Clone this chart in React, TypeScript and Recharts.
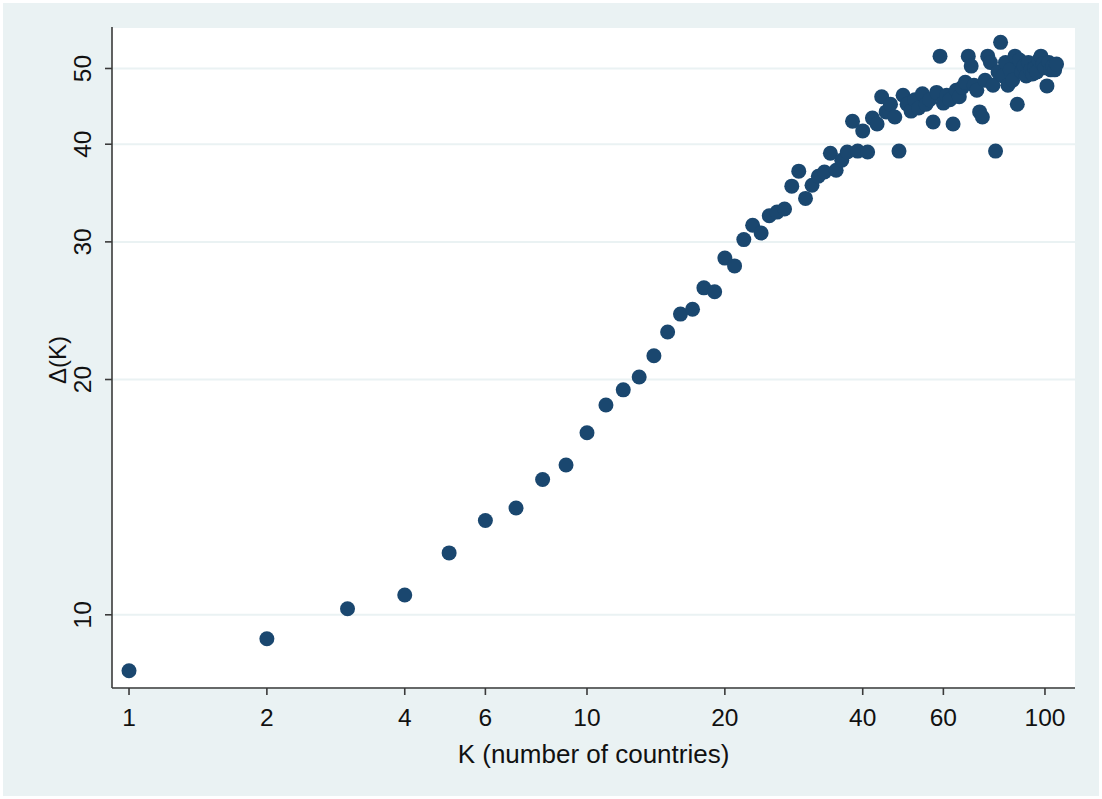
import { ScatterChart, Scatter, XAxis, YAxis, CartesianGrid } from 'recharts';

// K (number of countries) and the measured Δ(K) for each K
const kValues = [
  1, 2, 3, 4, 5, 6, 7, 8, 9, 10,
  11, 12, 13, 14, 15, 16, 17, 18, 19, 20,
  21, 22, 23, 24, 25, 26, 27, 28, 29, 30,
  31, 32, 33, 34, 35, 36, 37, 38, 39, 40,
  41, 42, 43, 44, 45, 46, 47, 48, 49, 50,
  51, 52, 53, 54, 55, 56, 57, 58, 59, 60,
  61, 62, 63, 64, 65, 66, 67, 68, 69, 70,
  71, 72, 73, 74, 75, 76, 77, 78, 79, 80,
  81, 82, 83, 84, 85, 86, 87, 88, 89, 90,
  91, 92, 93, 94, 95, 96, 97, 98, 99, 100,
  101, 102, 103, 104, 105, 106,
];

const deltaValues = [
  8.48, 9.32, 10.18, 10.6, 12.0, 13.2, 13.7, 14.9, 15.55, 17.1,
  18.55, 19.4, 20.15, 21.45, 23.0, 24.25, 24.6, 26.2, 25.9, 28.6,
  27.95, 30.2, 31.5, 30.8, 32.4, 32.75, 33.05, 35.35, 36.95, 34.1,
  35.45, 36.4, 36.85, 38.95, 37.05, 38.15, 39.1, 42.8, 39.2, 41.6,
  39.1, 43.2, 42.45, 46.0, 44.0, 45.0, 43.35, 39.2, 46.2, 45.0,
  44.1, 45.6, 44.5, 46.4, 45.0, 45.6, 42.7, 46.6, 51.85, 45.15,
  46.2, 45.6, 42.45, 46.9, 46.0, 47.3, 48.0, 51.85, 50.35, 47.6,
  46.9, 44.0, 43.35, 48.3, 51.85, 50.9, 47.6, 39.2, 49.5, 54.0,
  48.9, 50.9, 47.6, 49.8, 48.3, 51.85, 45.0, 51.25, 49.5, 50.35,
  48.9, 50.9, 49.8, 49.2, 50.1, 49.5, 51.25, 51.85, 50.65, 50.1,
  47.5, 50.9, 49.8, 50.35, 49.8, 50.65,
];

const xTicks = [1, 2, 4, 6, 10, 20, 40, 60, 100];
const yTicks = [10, 20, 30, 40, 50];

const data = kValues.map((k, i) => ({ k, delta: deltaValues[i] }));

const FONT = '"Liberation Sans", Arial, Helvetica, sans-serif';
const BG = '#eaf2f3';
const DOT = '#1a476f';
const AXIS = '#3a3a3a';

const XTick = (props: any) => {
  const { x, y, payload } = props;
  return (
    <text x={x} y={y + 29} textAnchor="middle" fontSize={24.5} fill="#111" fontFamily={FONT}>
      {payload.value}
    </text>
  );
};

const YTick = (props: any) => {
  const { x, y, payload } = props;
  const cx = x - 20;
  return (
    <text
      x={cx}
      y={y}
      textAnchor="middle"
      dominantBaseline="central"
      fontSize={24.5}
      fill="#111"
      fontFamily={FONT}
      transform={`rotate(-90 ${cx} ${y})`}
    >
      {payload.value}
    </text>
  );
};

const XTitle = (props: any) => {
  const { viewBox } = props;
  const cx = viewBox.x + viewBox.width / 2;
  return (
    <text x={cx} y={viewBox.y + 75} textAnchor="middle" fontSize={26} fill="#111" fontFamily={FONT}>
      K (number of countries)
    </text>
  );
};

const YTitle = () => {
  const cx = 57;
  const cy = 360;
  return (
    <text
      x={cx}
      y={cy}
      textAnchor="middle"
      dominantBaseline="central"
      fontSize={24}
      fill="#111"
      fontFamily={FONT}
      transform={`rotate(-90 ${cx} ${cy})`}
    >
      Δ(K)
    </text>
  );
};

const Dot = (props: any) => <circle cx={props.cx} cy={props.cy} r={7.5} fill={DOT} />;

export default function App() {
  return (
    <div
      style={{
        position: 'absolute',
        left: 0,
        top: 0,
        width: 1102,
        height: 799,
        background: BG,
        border: '3px solid #fff',
        boxSizing: 'border-box',
      }}
    >
      <div style={{ position: 'absolute', left: -3, top: -3 }}>
        <ScatterChart width={1102} height={799} margin={{ top: 27, right: 27, bottom: 0, left: 0 }}>
          <CartesianGrid vertical={false} stroke={BG} strokeWidth={2} fill="#ffffff" />
          <XAxis
            type="number"
            dataKey="k"
            scale="log"
            domain={[0.918, 116.3]}
            allowDataOverflow
            ticks={xTicks}
            height={111}
            tickSize={7}
            stroke={AXIS}
            axisLine={{ stroke: AXIS, strokeWidth: 1.6 }}
            tickLine={{ stroke: AXIS, strokeWidth: 1.6 }}
            tick={<XTick />}
            label={<XTitle />}
          />
          <YAxis
            type="number"
            dataKey="delta"
            scale="log"
            domain={[8.06, 56.5]}
            allowDataOverflow
            ticks={yTicks}
            width={112}
            tickSize={7}
            stroke={AXIS}
            axisLine={{ stroke: AXIS, strokeWidth: 1.6 }}
            tickLine={{ stroke: AXIS, strokeWidth: 1.6 }}
            tick={<YTick />}
            label={<YTitle />}
          />
          <Scatter data={data} shape={<Dot />} isAnimationActive={false} />
        </ScatterChart>
      </div>
    </div>
  );
}
